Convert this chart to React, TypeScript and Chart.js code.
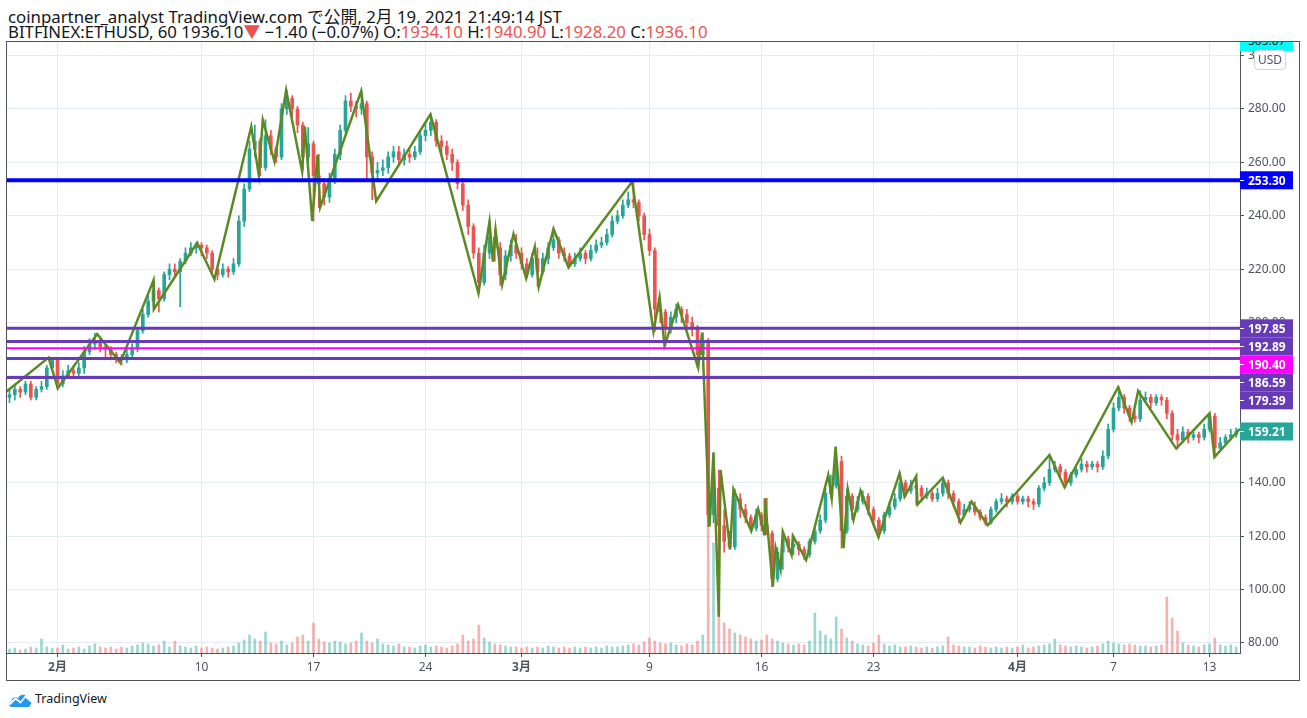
import { useEffect, useRef } from "react";
import Chart from "chart.js/auto";

// 8-hour candles, days counted from 1 Feb 2020 (JST)
const candleStart = -3;
const candleStep = 1 / 3;
const firstOpen = 172;

const closes = [
  173, 175, 174, 177, 172, 175, 176, 183, 186, 177, 180, 182,
  181, 183, 189, 192, 193, 191, 190, 188, 187, 186, 188, 190,
  197, 203, 208, 212, 209, 218, 220, 219, 223, 226, 228, 229,
  228, 226, 220, 218, 220, 219, 222, 238, 250, 265, 268, 258,
  270, 265, 262, 280, 284, 280, 274, 262, 267, 255, 252, 247,
  254, 263, 272, 283, 281, 280, 282, 262, 256, 257, 258, 262,
  264, 261, 263, 262, 264, 270, 272, 275, 268, 266, 263, 260,
  252, 244, 236, 226, 215, 226, 232, 228, 218, 225, 229, 226,
  222, 218, 224, 219, 224, 228, 231, 226, 225, 222, 224, 226,
  224, 227, 229, 230, 233, 238, 240, 244, 246, 245, 240, 233,
  227, 205, 204, 198, 202, 205, 203, 200, 198, 188, 193, 128,
  138, 124, 118, 116, 134, 130, 127, 123, 128, 124, 121, 104,
  114, 119, 116, 117, 115, 113, 118, 122, 126, 136, 139, 148,
  122, 135, 130, 133, 135, 130, 126, 122, 128, 131, 134, 140,
  137, 139, 138, 135, 136, 134, 136, 140, 136, 133, 128, 130,
  131, 129, 127, 125, 130, 133, 134, 133, 135, 133, 134, 133,
  132, 138, 140, 145, 146, 144, 140, 143, 145, 147, 146, 147,
  146, 150, 160, 168, 172, 168, 165, 164, 171, 172, 170, 172,
  171, 166, 158, 156, 159, 157, 158, 157, 160, 165, 153, 155,
  157, 158, 159.21,
];

const highs = [
  175, 177, 176, 178, 178, 176, 178, 184, 187, 186, 182, 184,
  184, 185, 191, 194, 196, 194, 192, 191, 189, 188, 190, 192,
  198, 205, 210, 216, 213, 219, 222, 222, 224, 228, 230, 230,
  230, 229, 227, 221, 222, 221, 224, 240, 252, 268, 274, 269,
  276, 272, 266, 282, 287, 285, 281, 275, 273, 268, 263, 254,
  256, 265, 274, 285, 286, 283, 287, 283, 264, 260, 261, 264,
  266, 266, 265, 265, 266, 272, 275, 278, 276, 270, 268, 265,
  261, 254, 246, 237, 228, 229, 238, 235, 230, 227, 231, 233,
  228, 224, 226, 228, 226, 230, 235, 232, 228, 226, 226, 228,
  227, 229, 231, 232, 235, 240, 242, 246, 249, 252.8, 246, 241,
  235, 228, 209.5, 205, 204, 207, 206, 205, 202, 199, 196.2, 194,
  151.3, 144.8, 130, 122, 137.6, 136, 132, 128, 130.2, 129, 134.2, 122,
  115.7, 121.7, 120, 120.1, 118, 116, 119, 124, 128, 138, 142.9, 153.5,
  150, 137.6, 136, 135, 137, 136, 131, 127, 129, 133, 136, 143.6,
  141, 141, 142.5, 139, 138, 137, 138, 141.9, 141, 137, 134, 132,
  133, 132.9, 130, 128, 131, 134, 136, 135, 136, 136, 135, 135,
  134, 139, 142, 150.4, 148, 147, 145, 144, 146, 149, 148, 148,
  148, 152, 162, 170, 175.8, 173, 169, 167, 174.4, 174, 173, 173,
  173, 172, 167, 160, 161, 160, 159, 159, 162, 166, 166, 157,
  158, 160, 160.5,
];

const lows = [
  170, 171, 172, 173, 171, 171, 174, 175, 182, 175, 176, 179,
  179, 180, 181, 188, 190, 189, 187, 186, 185, 184, 185, 187,
  189, 196, 202, 206, 204, 208, 216, 217, 206, 222, 225, 226,
  225, 224, 218, 216, 217, 217, 218, 221, 236, 249, 262, 255,
  257, 263, 260, 261, 278, 277, 271, 257, 260, 238, 243, 244,
  245, 252, 261, 271, 279, 277, 278, 253, 246, 253, 255, 256,
  260, 259, 259, 260, 261, 263, 268, 270, 266, 263, 261, 257,
  250, 242, 233, 224, 211, 214, 224, 223, 214, 216, 223, 224,
  220, 216.6, 217, 213.5, 218, 222, 227, 224, 223, 220.7, 221, 223,
  222, 223, 226, 228, 229, 232, 237, 239, 243, 243, 238, 231,
  225, 196.6, 200, 191.3, 196, 200, 200, 198, 195, 183.1, 186, 123.6,
  125, 89.9, 114, 115.1, 115, 127, 125, 121.9, 122, 122, 120.7, 101.1,
  103, 107.6, 114, 113, 113, 111.1, 112, 117, 121, 125, 134.2, 138,
  115.5, 121, 126.1, 129, 132, 128, 124, 119.6, 121, 127, 130, 133,
  134.8, 136, 131.9, 133, 134, 133, 133, 135, 134, 131, 125.1, 127,
  129, 128, 126, 124.1, 124.5, 129, 132, 131, 132, 132, 132, 131,
  130, 131, 137, 139, 144, 142, 138.3, 139, 142, 144, 144, 145,
  144, 145, 149, 159, 167, 166, 163, 162.7, 163, 170, 168, 169,
  169, 164, 156, 152.8, 155, 155, 156, 155, 156, 159, 149.6, 152,
  154, 156, 157,
];

const volumes = [
  4, 5, 3, 4, 6, 5, 14, 6, 5, 5, 8, 4,
  5, 6, 4, 7, 9, 6, 5, 6, 4, 6, 5, 7,
  8, 10, 9, 7, 8, 12, 6, 12, 7, 6, 5, 7,
  5, 6, 5, 4, 5, 6, 7, 10, 13, 18, 14, 12,
  21, 10, 9, 12, 8, 10, 16, 18, 12, 30, 14, 11,
  10, 12, 11, 9, 10, 12, 20, 12, 10, 14, 9, 8,
  7, 9, 6, 6, 5, 7, 8, 6, 7, 6, 5, 7,
  9, 18, 12, 14, 28, 15, 11, 9, 8, 7, 6, 6,
  5, 6, 5, 6, 5, 7, 6, 5, 6, 5, 6, 5,
  6, 5, 6, 5, 7, 6, 6, 7, 8, 9, 8, 11,
  15, 12, 10, 9, 10, 8, 7, 9, 8, 12, 18, 200,
  110, 45, 30, 24, 20, 18, 16, 14, 12, 13, 18, 14,
  12, 10, 9, 8, 9, 8, 12, 40, 22, 18, 14, 36,
  24, 15, 12, 9, 8, 7, 10, 18, 9, 7, 8, 6,
  6, 7, 6, 5, 6, 5, 6, 7, 16, 8, 7, 6,
  6, 5, 7, 6, 5, 6, 5, 6, 5, 6, 8, 5,
  6, 7, 8, 9, 14, 8, 7, 6, 7, 6, 5, 6,
  7, 9, 12, 10, 9, 8, 9, 8, 7, 7, 6, 7,
  8, 56, 35, 22, 10, 8, 7, 6, 8, 9, 15, 8,
  7, 8, 6,
];

// hand-drawn zigzag: day offset and price of each vertex
const zigzagDays = [
  -3.2, -0.56, 0.02, 2.48, 3.92, 6.0, 6.02, 8.73, 9.81, 12.11, 12.58, 12.83,
  13.56, 14.29, 15.29, 15.46, 15.92, 16.25, 16.42, 18.98, 19.92, 23.31, 26.31,
  27.0, 27.21, 27.38, 27.79, 28.5, 29.29, 29.83, 30.08, 31.0, 31.94, 35.92,
  37.25, 37.63, 37.94, 38.79, 40.04, 40.29, 40.75, 41.0, 41.33, 41.44, 42.04,
  42.25, 43.36, 43.79, 44.17, 44.21, 44.71, 44.88, 45.19, 45.33, 45.88, 45.96,
  46.79, 48.17, 48.39, 48.63, 49.13, 49.39, 49.75, 50.19, 51.31, 52.63, 52.94,
  53.67, 53.75, 55.33, 56.44, 57.13, 58.14, 62.0, 62.94, 66.29, 67.13, 67.54,
  69.92, 72.0, 72.31, 73.9,
];
const zigzagPrices = [
  174.1, 186.9, 175.4, 195.7, 185.0, 215.8, 205.0, 229.9, 216.2, 273.4, 255.3, 275.9,
  260.3, 287.1, 256.6, 273.4, 238.1, 262.8, 243.2, 286.7, 245.5, 278.0, 211.0,
  237.8, 222.8, 234.7, 214.2, 233.2, 216.6, 228.4, 213.5, 235.1, 220.7, 252.8,
  196.6, 209.5, 191.3, 206.7, 183.1, 196.2, 123.6, 151.3, 89.9, 144.8, 115.1,
  137.6, 121.9, 130.2, 120.7, 134.2, 101.1, 115.7, 107.6, 121.7, 113.0, 120.1,
  111.1, 142.9, 134.2, 153.5, 115.5, 137.6, 126.1, 137.0, 119.6, 143.6, 134.8,
  142.5, 131.9, 141.9, 125.1, 132.9, 124.1, 150.4, 138.3, 175.8, 162.7, 174.4,
  152.8, 166.0, 149.6, 160.2,
];

const levelValues = [253.3, 197.85, 192.89, 190.4, 186.59, 179.39];
const levelColors = ["#0000ff", "#673ab7", "#673ab7", "#ff00ff", "#673ab7", "#673ab7"];
const levelWidths = [4, 3, 3, 2, 3, 3];
const lastPrice = 159.21;

const tickDays = [0, 9, 16, 23, 29, 37, 44, 51, 60, 66, 72];
const tickLabels = ["2月", "10", "17", "24", "3月", "9", "16", "23", "4月", "7", "13"];

const UP = "#26a69a";
const DOWN = "#ef5350";
const GRID = "#e4ebf1";
const AXIS = "#50535e";
const TEXT = "#131722";
const FONT = '"Noto Sans", "Noto Sans CJK JP", sans-serif';

const X_MIN = -3.156;
const X_MAX = 73.906;
const Y_MIN = 76.25;
const Y_MAX = 305.09;

const PriceChart = () => {
  const canvasRef = useRef<HTMLCanvasElement>(null);
  const chartRef = useRef<Chart | null>(null);

  useEffect(() => {
    if (!canvasRef.current) return;
    const opens = closes.map((_, i) => (i === 0 ? firstOpen : closes[i - 1]));
    const days = closes.map((_, i) => candleStart + i * candleStep);
    const colors = closes.map((c, i) => (c >= opens[i] ? UP : DOWN));
    const volColors = closes.map((c, i) =>
      c >= opens[i] ? "rgba(38,166,154,0.45)" : "rgba(239,83,80,0.45)"
    );

    const levelsPlugin = {
      id: "levels",
      afterDatasetsDraw(chart: any) {
        const { ctx, chartArea, scales } = chart;
        ctx.save();
        levelValues.forEach((v, i) => {
          const y = scales.y.getPixelForValue(v);
          ctx.strokeStyle = levelColors[i];
          ctx.lineWidth = levelWidths[i];
          ctx.beginPath();
          ctx.moveTo(chartArea.left, y);
          ctx.lineTo(chartArea.right, y);
          ctx.stroke();
        });
        ctx.restore();
      },
      afterDraw(chart: any) {
        const { ctx, chartArea, scales } = chart;
        const x0 = chartArea.right;
        const w = 53;
        const h = 18;
        const drawLabel = (yc: number, bg: string, text: string) => {
          ctx.fillStyle = bg;
          ctx.fillRect(x0, yc - h / 2, w, h);
          ctx.strokeStyle = "#ffffff";
          ctx.lineWidth = 1;
          ctx.beginPath();
          ctx.moveTo(x0, Math.round(yc) + 0.5);
          ctx.lineTo(x0 + 4, Math.round(yc) + 0.5);
          ctx.stroke();
          ctx.fillStyle = "#ffffff";
          ctx.font = `bold 12px ${FONT}`;
          ctx.textAlign = "left";
          ctx.textBaseline = "middle";
          ctx.fillText(text, x0 + 8, yc + 1);
        };
        ctx.save();
        let prev = -Infinity;
        levelValues.forEach((v, i) => {
          const y = Math.max(scales.y.getPixelForValue(v), prev + h);
          prev = y;
          drawLabel(y, levelColors[i], v.toFixed(2));
        });
        drawLabel(scales.y.getPixelForValue(lastPrice), UP, lastPrice.toFixed(2));
        ctx.restore();
      },
    };

    chartRef.current?.destroy();
    chartRef.current = new Chart(canvasRef.current, {
      type: "bar",
      data: {
        datasets: [
          {
            type: "bar",
            label: "Volume",
            data: days.map((d, i) => ({ x: d, y: volumes[i] })),
            yAxisID: "yv",
            backgroundColor: volColors,
            barThickness: 2,
            grouped: false,
            order: 4,
          },
          {
            type: "bar",
            label: "Wick",
            data: days.map((d, i) => ({ x: d, y: [lows[i], highs[i]] })),
            yAxisID: "y",
            backgroundColor: colors,
            barThickness: 1,
            grouped: false,
            order: 3,
          },
          {
            type: "bar",
            label: "Body",
            data: days.map((d, i) => ({ x: d, y: [opens[i], closes[i]] })),
            yAxisID: "y",
            backgroundColor: colors,
            barThickness: 3,
            minBarLength: 1,
            grouped: false,
            order: 2,
          },
          {
            type: "line",
            label: "ZigZag",
            data: zigzagDays.map((d, i) => ({ x: d, y: zigzagPrices[i] })),
            yAxisID: "y",
            borderColor: "#5b8a23",
            borderWidth: 2.5,
            pointRadius: 0,
            tension: 0,
            order: 1,
          },
        ] as any,
      },
      options: {
        animation: false,
        responsive: false,
        layout: { padding: 0 },
        plugins: { legend: { display: false }, tooltip: { enabled: false } },
        scales: {
          x: {
            type: "linear",
            min: X_MIN,
            max: X_MAX,
            offset: false,
            grid: { color: GRID, offset: false, tickLength: 4, tickColor: AXIS },
            border: { display: true, color: AXIS },
            afterBuildTicks: (s: any) => {
              s.ticks = tickDays.map((v) => ({ value: v }));
            },
            afterFit: (s: any) => {
              s.height = 27;
              s.paddingLeft = 0;
              s.paddingRight = 0;
            },
            ticks: {
              autoSkip: false,
              maxRotation: 0,
              padding: 3,
              color: AXIS,
              callback: (_v: any, i: number) => tickLabels[i],
              font: (c: any) => ({
                family: FONT,
                size: 12,
                weight: tickLabels[c.index]?.includes("月") ? "bold" : "normal",
              }),
            },
          },
          y: {
            position: "right",
            min: Y_MIN,
            max: Y_MAX,
            grid: { color: GRID, tickLength: 4, tickColor: AXIS },
            border: { display: true, color: AXIS },
            afterFit: (s: any) => {
              s.width = 59;
              s.paddingTop = 0;
              s.paddingBottom = 0;
            },
            ticks: {
              stepSize: 20,
              includeBounds: false,
              padding: 4,
              color: AXIS,
              font: { family: FONT, size: 12 },
              callback: (v: any) => Number(v).toFixed(2),
            },
          },
          yv: { display: false, min: 0, max: 611 },
        },
      } as any,
      plugins: [levelsPlugin],
    });

    return () => {
      chartRef.current?.destroy();
      chartRef.current = null;
    };
  }, []);

  return <canvas ref={canvasRef} width={1292} height={638} style={{ width: 1292, height: 638 }} />;
};

const Red = ({ children }: { children: any }) => <span style={{ color: DOWN }}>{children}</span>;

export default function App() {
  return (
    <div
      style={{
        position: "fixed",
        left: 0,
        top: 0,
        width: 1307,
        height: 718,
        background: "#ffffff",
        fontFamily: FONT,
        color: TEXT,
        overflow: "hidden",
      }}
    >
      <div style={{ position: "absolute", left: 8, top: 7, fontSize: 16.8, lineHeight: "19px", whiteSpace: "nowrap" }}>
        coinpartner_analyst TradingView.com で公開, 2月 19, 2021 21:49:14 JST
      </div>
      <div style={{ position: "absolute", left: 8, top: 22, fontSize: 16.8, lineHeight: "19px", whiteSpace: "nowrap" }}>
        BITFINEX:ETHUSD, 60 1936.10<Red>▼</Red> −1.40 (−0.07%) O:<Red>1934.10</Red> H:<Red>1940.90</Red> L:
        <Red>1928.20</Red> C:<Red>1936.10</Red>
      </div>

      <div
        style={{
          position: "absolute",
          left: 6,
          top: 41,
          width: 1292,
          height: 638,
          border: `1px solid ${AXIS}`,
        }}
      >
        <PriceChart />
        <div
          style={{
            position: "absolute",
            left: 1233,
            top: 0,
            width: 53,
            height: 9,
            background: "#00ffff",
            overflow: "hidden",
          }}
        >
          <span style={{ position: "absolute", left: 8, top: -8, fontSize: 12, lineHeight: "14px", color: TEXT }}>
            305.07
          </span>
        </div>
        <div
          style={{
            position: "absolute",
            left: 1247,
            top: 8,
            width: 30,
            height: 18,
            border: "1px solid #d1d4dc",
            borderRadius: 4,
            background: "#ffffff",
            fontSize: 12,
            lineHeight: "18px",
            textAlign: "center",
            color: AXIS,
          }}
        >
          USD
        </div>
      </div>

      <div style={{ position: "absolute", left: 8, top: 690, display: "flex", alignItems: "center", gap: 3 }}>
        <svg width="24" height="16" viewBox="0 0 24 16">
          <path
            d="M4 16 C0.5 16 0 11 3.5 10.5 C3.5 6.5 8 5 10 7.5 C11.5 3 18 2.5 19 7 C23 7 24.5 12 22 14.5 C21.5 15.5 20.5 16 19 16 Z"
            fill="#2196f3"
          />
          <polyline points="1.5,13.5 7.5,7.5 12.5,11.5 17.5,5.5 23,10.5" stroke="#ffffff" strokeWidth="1.8" fill="none" />
        </svg>
        <span style={{ fontSize: 12.5, color: TEXT }}>TradingView</span>
      </div>
    </div>
  );
}
